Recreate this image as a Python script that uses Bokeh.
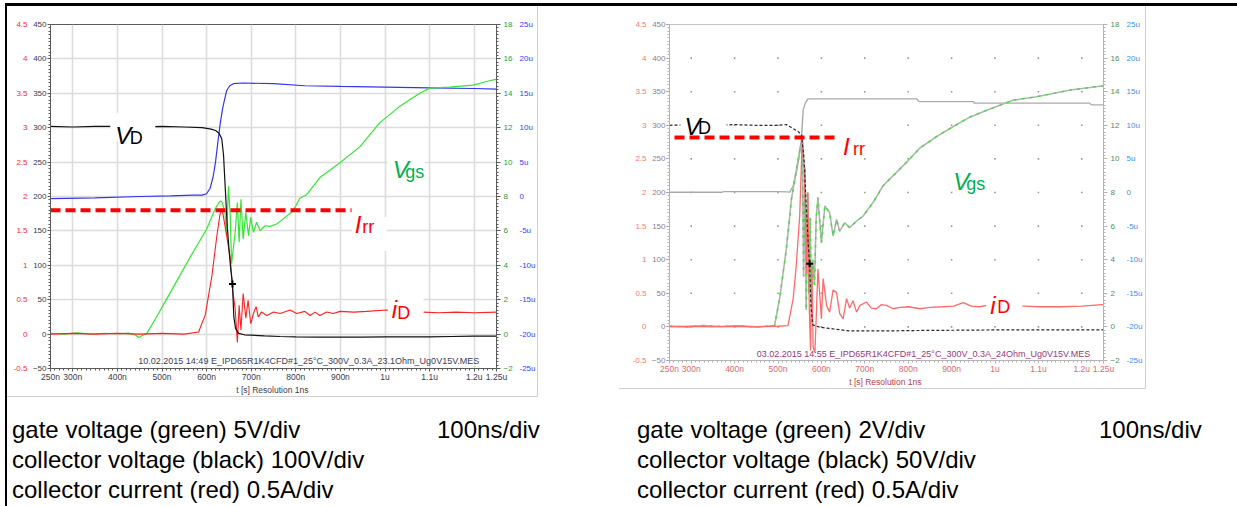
from bokeh.plotting import figure
from bokeh.models import Range1d, LinearAxis, FixedTicker, Label, BoxAnnotation, Div, Spacer
from bokeh.layouts import column, row
from bokeh.embed import file_html
from bokeh.resources import INLINE

# ---------------- axis ticks (shared by both scope shots) ----------------
x_major = [250, 300, 400, 500, 600, 700, 800, 900, 1000, 1100, 1200, 1250]
x_labels = ["250n", "300n", "400n", "500n", "600n", "700n", "800n", "900n", "1u", "1.1u", "1.2u", "1.25u"]
x_grid = [300, 400, 500, 600, 700, 800, 900, 1000, 1100, 1200]
x_minor = [250 + 10 * i for i in range(101)]
v_major = [-50, 0, 50, 100, 150, 200, 250, 300, 350, 400, 450]
v_minor = [-50 + 5 * i for i in range(101)]
amp_major = [-0.5, 0, 0.5, 1, 1.5, 2, 2.5, 3, 3.5, 4, 4.5]
amp_labels = ["-0.5", "0", "0.5", "1", "1.5", "2", "2.5", "3", "3.5", "4", "4.5"]
vgs_major = [-2, 0, 2, 4, 6, 8, 10, 12, 14, 16, 18]
vgs_minor = [-2 + 0.2 * i for i in range(101)]
blue_major = [-25, -20, -15, -10, -5, 0, 5, 10, 15, 20, 25]
blue_labels = ["-25u", "-20u", "-15u", "-10u", "-5u", "0", "5u", "10u", "15u", "20u", "25u"]

# ---------------- left shot: 5V/div gate ----------------
L_vd_t = [250, 300, 350, 400, 450, 500, 550, 590, 610, 620, 628, 634, 638, 642, 646, 650, 654, 658, 661, 665, 672,
          685, 700, 730, 765, 800, 850, 900, 950, 1000, 1050, 1100, 1150, 1200, 1250]
L_vd_v = [302, 301, 302, 302, 301, 302, 301, 300, 298, 296, 292, 284, 260, 210, 160, 125, 95, 73, 25, 8, 1,
          -1, -1.5, -2.5, -3.5, -4, -4.5, -4.5, -4.5, -4, -4, -4, -3.5, -3, -3]

L_bl_t = [250, 350, 450, 520, 570, 590, 600, 608, 615, 620, 626, 631, 636, 640, 645, 652, 660, 680, 750, 820, 900,
          1000, 1100, 1200, 1250]
L_bl_v = [-0.3, -0.2, 0.0, 0.1, 0.2, 0.2, 0.4, 1.2, 3.0, 5.0, 8.3, 10.8, 12.8, 14.0, 15.4, 16.1, 16.4, 16.5, 16.4,
          16.1, 16.0, 15.9, 15.8, 15.7, 15.6]

L_vgs_t = [250, 280, 310, 340, 370, 400, 425, 440, 448, 455, 466, 490, 511, 540, 563, 600, 619, 630, 634, 641, 645,
           649, 653, 656, 664, 669, 673, 677, 682, 688, 694, 699, 705, 712, 720, 731, 742, 757, 772, 794, 809, 824,
           854, 899, 944, 988, 1033, 1078, 1100, 1145, 1197, 1230, 1250]
L_vgs_v = [0.05, 0.0, 0.08, 0.0, 0.05, 0.02, 0.06, -0.05, -0.2, -0.1, 0.04, 1.1, 2.06, 3.4, 4.47, 6.1, 7.27, 7.74,
           7.7, 7.16, 5.7, 8.6, 6.9, 4.1, 5.9, 7.65, 5.34, 7.84, 5.52, 7.08, 5.72, 6.79, 5.92, 6.5, 6.01, 6.3, 6.26,
           6.4, 6.7, 7.17, 7.9, 8.1, 9.1, 9.96, 10.9, 12.28, 13.24, 14.0, 14.3, 14.36, 14.48, 14.7, 14.82]

L_id_t = [250, 300, 350, 400, 450, 500, 550, 582, 597, 612, 623, 630, 635, 645, 653, 659, 664, 669, 673, 677, 682,
          688, 693, 699, 705, 711, 716, 723, 735, 750, 765, 787, 802, 820, 832, 843, 854, 869, 884, 899, 930, 958,
          1003, 1050, 1085, 1120, 1160, 1200, 1250]
L_id_v = [0.0, 0.01, 0.0, 0.01, 0.0, 0.01, 0.0, 0.03, 0.28, 0.85, 1.43, 1.74, 1.81, 1.43, 1.1, 0.61, 0.37, -0.12,
          0.42, 0.06, 0.59, 0.23, 0.49, 0.15, 0.3, 0.4, 0.25, 0.32, 0.27, 0.32, 0.3, 0.35, 0.3, 0.33, 0.27, 0.32,
          0.27, 0.32, 0.3, 0.33, 0.32, 0.33, 0.35, 0.33, 0.32, 0.31, 0.32, 0.31, 0.32]

L_irr_t = [250, 925]
L_irr_v = [1.8, 1.8]
L_cursor_t = [658]
L_cursor_v = [73]
L_stamp = "10.02.2015 14:49    E_IPD65R1K4CFD#1_25°C_300V_0.3A_23.1Ohm_Ug0V15V.MES"

# ---------------- right shot: 2V/div gate ----------------
R_vd_t = [250, 300, 350, 400, 450, 500, 519, 530, 546, 554, 560, 565, 570, 573, 576, 580, 596, 627, 665, 700, 750,
          800, 850, 900, 1000, 1100, 1250]
R_vd_v = [300, 301, 300, 301, 300, 300, 301, 297, 291, 286, 250, 180, 120, 94, 30, 3, -0.4, -3, -6, -6, -6,
          -5.5, -5.2, -5, -4.5, -4.4, -4.4]

R_bl_t = [250, 370, 375, 500, 520, 527, 535, 542, 548, 554, 558, 563, 569, 600, 700, 820, 825, 900, 950, 952, 1100,
          1218, 1222, 1250]
R_bl_v = [0.03, 0.03, 0.13, 0.13, 0.1, 0.05, 1.0, 2.9, 5.0, 7.9, 12.3, 13.3, 13.93, 13.93, 13.93, 13.93, 13.53,
          13.53, 13.53, 13.3, 13.3, 13.3, 13.04, 13.04]

R_vgs_t = [250, 290, 330, 370, 410, 450, 480, 492, 504, 519, 531, 542, 552, 556, 559, 562, 565, 568, 571, 574, 577,
           580, 584, 588, 592, 600, 608, 619, 627, 635, 642, 654, 665, 681, 696, 719, 742, 773, 800, 827, 866, 904,
           943, 981, 1043, 1096, 1174, 1246, 1250]
R_vgs_v = [0.05, 0.0, 0.08, 0.02, 0.06, 0.0, 0.05, 0.08, 1.72, 4.6, 7.6, 9.3, 10.8, 11.0, 3.0, 9.5, 1.0, 8.0, 2.0,
           6.5, 1.5, 4.0, 2.5, 6.5, 7.7, 5.0, 7.2, 6.8, 5.4, 6.4, 5.7, 6.2, 5.9, 6.3, 6.6, 7.4, 8.4, 9.2, 9.9, 10.65,
           11.34, 11.93, 12.5, 12.9, 13.5, 13.7, 14.1, 14.34, 14.36]

R_id_t = [250, 300, 350, 400, 450, 500, 523, 535, 542, 550, 556, 560, 563, 566, 569, 572, 575, 578, 581, 585, 589,
          592, 596, 600, 604, 612, 619, 627, 635, 642, 650, 658, 665, 673, 681, 689, 704, 715, 727, 738, 750, 765,
          781, 800, 827, 850, 880, 905, 927, 945, 965, 981, 1000, 1030, 1066, 1100, 1150, 1200, 1246, 1250]
R_id_v = [0.0, 0.01, 0.0, 0.01, 0.0, 0.01, 0.02, 0.42, 0.91, 1.65, 2.82, 2.4, 1.8, 0.8, 2.0, 0.3, -0.35, 0.9, -0.3,
          -0.38, 0.3, 0.86, 0.5, 0.12, 0.72, 0.32, 0.22, 0.55, 0.51, 0.2, 0.12, 0.42, 0.28, 0.39, 0.22, 0.32, 0.37,
          0.28, 0.27, 0.33, 0.32, 0.27, 0.29, 0.3, 0.27, 0.29, 0.3, 0.31, 0.36, 0.31, 0.3, 0.32, 0.3, 0.31, 0.31,
          0.3, 0.3, 0.31, 0.33, 0.33]

R_irr_t = [261.5, 638]
R_irr_v = [2.82, 2.82]
R_cursor_t = [573]
R_cursor_v = [94]
R_stamp = "03.02.2015 14:55    E_IPD65R1K4CFD#1_25°C_300V_0.3A_24Ohm_Ug0V15V.MES"

# ---------------- captions ----------------
L_caption = ["gate voltage (green) 5V/div", "collector voltage (black) 100V/div", "collector current (red) 0.5A/div"]
R_caption = ["gate voltage (green) 2V/div", "collector voltage (black) 50V/div", "collector current (red) 0.5A/div"]
time_caption = "100ns/div"

TICK_FONT = "Liberation Sans"
LETTER_FONT = "Liberation Sans"


def scope(width, height, bl, br, bt, bb, st):
    p = figure(width=width, height=height, x_range=Range1d(250, 1250), y_range=Range1d(-50, 450),
               output_backend="svg", toolbar_location=None, title=None,
               min_border_left=bl, min_border_right=br, min_border_top=bt, min_border_bottom=bb,
               background_fill_color="white", border_fill_color="white")
    p.extra_y_ranges = {"amp": Range1d(-0.5, 4.5), "vgs": Range1d(-2, 18), "blue": Range1d(-25, 25)}
    p.outline_line_color = st["outline"]
    p.outline_line_width = 1

    xa = p.xaxis[0]
    xa.ticker = FixedTicker(ticks=x_major, minor_ticks=x_minor)
    xa.major_label_overrides = dict(zip(x_major, x_labels))
    xa.axis_label = "t [s]  Resolution 1ns"
    xa.axis_label_text_font = TICK_FONT
    xa.axis_label_text_font_style = "normal"
    xa.axis_label_text_font_size = "8.5px"
    xa.axis_label_text_color = st["xlabel"]
    xa.axis_label_standoff = 0
    xa.major_label_text_font = TICK_FONT
    xa.major_label_text_font_size = "8.5px"
    xa.major_label_text_color = st["xtick"]
    xa.major_label_standoff = 0
    xa.axis_line_color = st["axis"]
    xa.major_tick_line_color = st["axis"]
    xa.minor_tick_line_color = st["axis"]
    xa.major_tick_in = 0
    xa.major_tick_out = 3
    xa.minor_tick_in = 0
    xa.minor_tick_out = 2

    ya = p.yaxis[0]
    ya.ticker = FixedTicker(ticks=v_major, minor_ticks=v_minor)
    ya.major_label_text_font = TICK_FONT
    ya.major_label_text_font_size = "8px"
    ya.major_label_text_color = st["black_lab"]
    ya.major_label_standoff = 1
    ya.axis_line_color = st["axis"]
    ya.major_tick_line_color = st["vtick"]
    ya.minor_tick_line_color = st["axis"]
    ya.major_tick_in = 0
    ya.major_tick_out = 3
    ya.minor_tick_in = 0
    ya.minor_tick_out = 2

    ra = LinearAxis(y_range_name="amp", ticker=FixedTicker(ticks=amp_major),
                    major_label_overrides=dict(zip(amp_major, amp_labels)))
    ra.major_label_text_font = TICK_FONT
    ra.major_label_text_font_size = "8px"
    ra.major_label_text_color = st["red_lab"]
    ra.major_label_standoff = 2
    ra.axis_line_color = None
    ra.major_tick_line_color = None
    ra.minor_tick_line_color = None
    ra.major_tick_in = 0
    ra.major_tick_out = 0
    ra.minor_tick_in = 0
    ra.minor_tick_out = 0
    p.add_layout(ra, "left")

    ga = LinearAxis(y_range_name="vgs", ticker=FixedTicker(ticks=vgs_major, minor_ticks=vgs_minor))
    ga.major_label_text_font = TICK_FONT
    ga.major_label_text_font_size = "8px"
    ga.major_label_text_color = st["green_lab"]
    ga.major_label_standoff = 3
    ga.axis_line_color = st["axis"]
    ga.major_tick_line_color = st["axis"]
    ga.minor_tick_line_color = st["axis"]
    ga.major_tick_in = 0
    ga.major_tick_out = 4
    ga.minor_tick_in = 0
    ga.minor_tick_out = 2
    p.add_layout(ga, "right")

    ba = LinearAxis(y_range_name="blue", ticker=FixedTicker(ticks=blue_major),
                    major_label_overrides=dict(zip(blue_major, blue_labels)))
    ba.major_label_text_font = TICK_FONT
    ba.major_label_text_font_size = "8px"
    ba.major_label_text_color = st["blue_lab"]
    ba.major_label_standoff = 4
    ba.axis_line_color = None
    ba.major_tick_line_color = None
    ba.minor_tick_line_color = None
    ba.major_tick_in = 0
    ba.major_tick_out = 0
    ba.minor_tick_in = 0
    ba.minor_tick_out = 0
    p.add_layout(ba, "right")

    p.xgrid.ticker = FixedTicker(ticks=x_grid)
    p.ygrid.ticker = FixedTicker(ticks=v_major)
    p.xgrid.grid_line_color = st["grid"]
    p.ygrid.grid_line_color = st["grid"]
    p.xgrid.grid_line_width = 1.6
    p.ygrid.grid_line_width = 1.6
    return p


def sub_label(p, x, y, main, sub, color, mx, my, main_size="24px", sub_size="18px"):
    p.add_layout(Label(x=x, y=y, text=main, text_color=color, text_font=LETTER_FONT,
                       text_font_size=main_size, text_font_style="italic",
                       text_align="left", text_baseline="alphabetic"))
    p.add_layout(Label(x=mx, y=my, text=sub, text_color=color, text_font=LETTER_FONT,
                       text_font_size=sub_size, text_align="left", text_baseline="alphabetic"))


def white_box(p, l, r, b, t):
    p.add_layout(BoxAnnotation(left=l, right=r, bottom=b, top=t, fill_color="white", fill_alpha=1.0,
                               line_color=None, line_alpha=0))


LEFT_STYLE = dict(outline="#5a5a5a", axis="#5a5a5a", vtick="#5a5a5a", xlabel="#3a3a4e", xtick="#3a3a4e",
                  black_lab="#3a3a4e", red_lab="#ff2a2a", green_lab="#1e9e3e", blue_lab="#3a3aff", grid="#dcdcdc")
RIGHT_STYLE = dict(outline="#c4c4c4", axis="#b4b4b4", vtick="#8a5aaa", xlabel="#b04050", xtick="#e06a6a",
                   black_lab="#8c8094", red_lab="#f27a7a", green_lab="#4f8f55", blue_lab="#3f8fe8", grid=None)

# ================= left figure =================
p1 = scope(531, 391, 43, 41, 18, 27, LEFT_STYLE)
p1.styles = {"border-right": "1px solid #cfcfcf", "border-bottom": "1px solid #cfcfcf"}
p1.line(L_bl_t, L_bl_v, y_range_name="blue", line_color="#3535ee", line_width=1.2)
p1.line(L_vgs_t, L_vgs_v, y_range_name="vgs", line_color="#33e633", line_width=1.2)
p1.line(L_id_t, L_id_v, y_range_name="amp", line_color="#ff2020", line_width=1.1)
p1.line(L_vd_t, L_vd_v, line_color="#111111", line_width=1.2)
p1.line(L_irr_t, L_irr_v, y_range_name="amp", line_color="#ff0000", line_width=4, line_dash="10 5")
p1.scatter(L_cursor_t, L_cursor_v, marker="cross", size=7, line_color="#000000", line_width=2)

white_box(p1, 384.2, 484.9, 279.9, 321.8)
white_box(p1, 1006.2, 1088.9, 227.9, 268.4)
white_box(p1, 925.6, 1003.9, 121.0, 170.1)
white_box(p1, 1006.0, 1086.7, 22.7, 73.3)

sub_label(p1, 395.4, 288.6, "V", "D", "#000000", 427.9, 285.0)
sub_label(p1, 1017.3, 239.5, "V", "gs", "#00b050", 1045.3, 235.0)
sub_label(p1, 932.0, 160.0, "I", "rr", "#ff0000", 949.1, 155.6)
sub_label(p1, 1015.1, 35.7, "i", "D", "#ff0000", 1027.4, 30.0)
p1.add_layout(Label(x=446.9, y=-39.4, text=L_stamp, text_font=TICK_FONT, text_font_size="9px",
                    text_color="#3c3c5a", text_baseline="middle"))

# ================= right figure =================
p2 = scope(527, 383, 50, 43, 18, 27, RIGHT_STYLE)
p2.styles = {"border-right": "1px solid #cfcfcf", "border-bottom": "1px solid #cfcfcf"}
dot_x = [gx for gx in x_grid for gy in v_major[1:-1]]
dot_y = [gy for gx in x_grid for gy in v_major[1:-1]]
p2.scatter(dot_x, dot_y, marker="square", size=1.6, fill_color="#9a9a9a", line_color=None)
p2.line(R_bl_t, R_bl_v, y_range_name="blue", line_color="#aaaaaa", line_width=1.4)
p2.line(R_vgs_t, R_vgs_v, y_range_name="vgs", line_color="#b4b4b4", line_width=1.6)
p2.line(R_vgs_t, R_vgs_v, y_range_name="vgs", line_color="#3fe03f", line_width=1.4, line_dash="3 5")
p2.line(R_id_t, R_id_v, y_range_name="amp", line_color="#ff6a6a", line_width=1.3)
p2.line(R_vd_t, R_vd_v, line_color="#2a2a2a", line_width=1.2, line_dash="3 2")
p2.line(R_irr_t, R_irr_v, y_range_name="amp", line_color="#ff0000", line_width=4, line_dash="10 5")
p2.scatter(R_cursor_t, R_cursor_v, marker="cross", size=7, line_color="#000000", line_width=2)

white_box(p2, 275.4, 381.6, 291.9, 330.4)
white_box(p2, 642.6, 702.7, 260.8, 302.3)
white_box(p2, 892.0, 977.5, 206.6, 254.0)
white_box(p2, 979.8, 1062.9, 22.3, 66.8)

sub_label(p2, 284.6, 298.6, "V", "D", "#000000", 315.8, 295.6)
sub_label(p2, 649.5, 268.2, "I", "rr", "#ff0000", 672.6, 265.3)
sub_label(p2, 903.6, 216.4, "V", "gs", "#00b050", 933.6, 212.0)
sub_label(p2, 989.0, 31.2, "i", "D", "#ff0000", 1005.2, 29.7)
p2.add_layout(Label(x=450.9, y=-40.0, text=R_stamp, text_font=TICK_FONT, text_font_size="9px",
                    text_color="#9a3a7a", text_baseline="middle"))

# ================= captions =================
blk = "position:absolute;white-space:nowrap;top:13px;"
html = (
    "<div style=\"position:relative;width:1226px;height:100px;"
    "font-family:'Liberation Sans',Arial,sans-serif;font-size:24px;line-height:30px;color:#000;\">"
    f"<div style=\"{blk}left:0px;\">{'<br>'.join(L_caption)}</div>"
    f"<div style=\"{blk}left:425px;\">{time_caption}</div>"
    f"<div style=\"{blk}left:625px;\">{'<br>'.join(R_caption)}</div>"
    f"<div style=\"{blk}left:1087px;\">{time_caption}</div>"
    "</div>"
)
captions = Div(text=html, width=1228, height=106, styles={"overflow": "hidden"})

layout = column(row(p1, Spacer(width=81, height=10), p2), captions,
                styles={"margin-left": "5px", "margin-top": "3px",
                        "border-top": "3px solid #000", "border-left": "2px solid #000"})

open("out.html", "w").write(file_html(layout, INLINE))
